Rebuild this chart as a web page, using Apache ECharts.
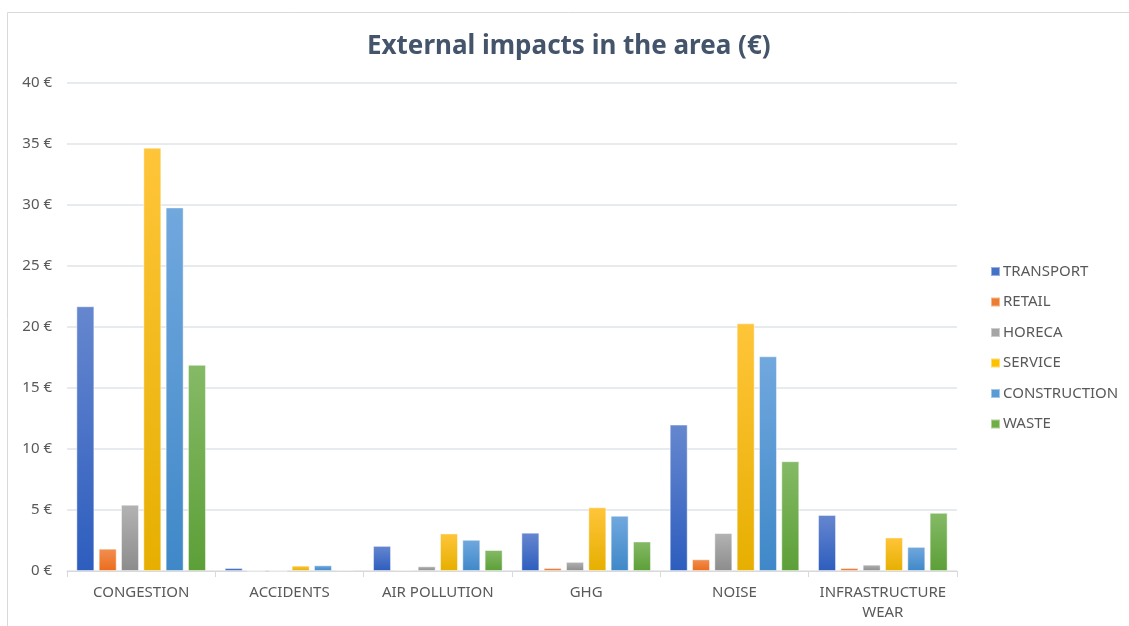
<!DOCTYPE html>
<html>
<head>
<meta charset="utf-8">
<script src="https://cdn.jsdelivr.net/npm/echarts@6/dist/echarts.min.js"></script>
<style>
  html, body { margin: 0; padding: 0; background: #ffffff; }
  #chart { width: 1129px; height: 626px; }
</style>
</head>
<body>
<div id="chart"></div>
<script>
// Impact categories (x axis)
const categories = ['CONGESTION', 'ACCIDENTS', 'AIR POLLUTION', 'GHG', 'NOISE', 'INFRASTRUCTURE\nWEAR'];

// Values per sector, in euros
const transport    = [21.7, 0.25, 2.06, 3.14, 12.0, 4.6];
const retail       = [1.83, 0, 0.1, 0.25, 0.96, 0.25];
const horeca       = [5.44, 0, 0.39, 0.75, 3.11, 0.52];
const service      = [34.7, 0.44, 3.08, 5.22, 20.3, 2.75];
const construction = [29.8, 0.47, 2.56, 4.53, 17.6, 1.98];
const waste        = [16.9, 0.1, 1.72, 2.42, 9.0, 4.77];

// Y axis range
const yMin = 0, yMax = 40, yStep = 5;

const FONT = '"Noto Sans", "Open Sans", sans-serif';
const TEXT = '#595959';

// legend swatch colour, gradient top, gradient bottom
const palette = {
  TRANSPORT:    ['#4472C4', '#6687CF', '#2D5DBE'],
  RETAIL:       ['#ED7D31', '#F28F52', '#EB6C1C'],
  HORECA:       ['#A5A5A5', '#B3B3B3', '#8C8C8C'],
  SERVICE:      ['#FFC000', '#FFC53A', '#E6AF00'],
  CONSTRUCTION: ['#5B9BD5', '#71A8DE', '#3F88C8'],
  WASTE:        ['#70AD47', '#85BA66', '#5C9F37']
};

const seriesData = [
  ['TRANSPORT', transport],
  ['RETAIL', retail],
  ['HORECA', horeca],
  ['SERVICE', service],
  ['CONSTRUCTION', construction],
  ['WASTE', waste]
];

const chart = echarts.init(document.getElementById('chart'), null, { renderer: 'canvas' });

chart.setOption({
  backgroundColor: '#ffffff',
  animation: false,
  graphic: [{
    type: 'rect',
    shape: { x: 7.5, y: 12.5, width: 1200, height: 700 },
    style: { fill: 'none', stroke: '#D9D9D9', lineWidth: 1 },
    silent: true
  }],
  title: {
    text: 'External impacts in the area (€)',
    left: 362,
    top: 29,
    textStyle: { fontFamily: FONT, fontSize: 26, fontWeight: 'bold', color: '#44546A' }
  },
  legend: {
    orient: 'vertical',
    left: 985,
    top: 257,
    itemWidth: 9,
    itemHeight: 9,
    itemGap: 11.5,
    icon: 'rect',
    textStyle: { fontFamily: FONT, fontSize: 15, lineHeight: 19, color: TEXT, padding: [0, 0, 0, -2] },
    data: seriesData.map(([name]) => ({ name, itemStyle: { color: palette[name][0] } }))
  },
  grid: { left: 67, right: 172, top: 83, bottom: 55, containLabel: false },
  xAxis: {
    type: 'category',
    data: categories,
    axisLine: { lineStyle: { color: '#D9D9D9', width: 1 } },
    axisTick: { show: true, length: 6, lineStyle: { color: '#D9D9D9' } },
    axisLabel: {
      fontFamily: FONT, fontSize: 15, color: TEXT, margin: 12, lineHeight: 20, interval: 0
    }
  },
  yAxis: {
    type: 'value',
    min: yMin,
    max: yMax,
    interval: yStep,
    axisLine: { show: false },
    axisTick: { show: false },
    splitLine: { lineStyle: { color: '#E1E4E9', width: 1.5 } },
    axisLabel: {
      fontFamily: FONT, fontSize: 15, color: TEXT, margin: 15,
      formatter: '{value} €'
    }
  },
  series: seriesData.map(([name, values]) => ({
    name,
    type: 'bar',
    data: values,
    barWidth: 18,
    barGap: '24%',
    itemStyle: {
      color: new echarts.graphic.LinearGradient(0, 0, 0, 1, [
        { offset: 0, color: palette[name][1] },
        { offset: 1, color: palette[name][2] }
      ]),
      borderColor: 'rgba(255,255,255,0.45)',
      borderWidth: 1
    }
  }))
});
</script>
</body>
</html>
